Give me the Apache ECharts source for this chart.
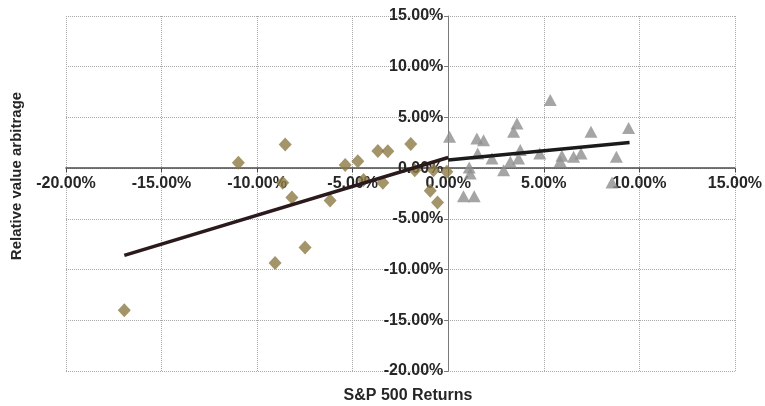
<!DOCTYPE html>
<html>
<head>
<meta charset="utf-8">
<script src="https://cdn.jsdelivr.net/npm/echarts@6/dist/echarts.min.js"></script>
<style>
  html, body { margin: 0; padding: 0; background: #fff; }
  #chart { width: 765px; height: 406px; }
</style>
</head>
<body>
<div id="chart"></div>
<script>
// Monthly returns (%): S&P 500 vs. relative value arbitrage
const downMonthsX = [-16.95, -10.98, -9.06, -8.66, -8.53, -8.18, -7.49, -6.18, -5.39, -4.73,
                     -4.43, -3.68, -3.42, -3.16, -1.96, -1.75, -0.94, -0.77, -0.56, -0.07];
const downMonthsY = [-14.0, 0.52, -9.34, -1.45, 2.33, -2.89, -7.82, -3.2, 0.30, 0.69,
                     -1.18, 1.68, -1.45, 1.66, 2.37, -0.2, -2.24, -0.22, -3.38, -0.36];

const upMonthsX = [0.07, 0.80, 1.10, 1.15, 1.36, 1.50, 1.54, 1.85, 2.29, 2.90, 3.25, 3.42, 3.60,
                   3.68, 3.77, 4.79, 5.34, 5.86, 5.95, 6.56, 6.95, 7.47, 8.57, 8.80, 9.44];
const upMonthsY = [3.09, -2.76, 0.07, -0.53, -2.76, 2.93, 1.45, 2.76, 0.95, -0.20, 0.62, 3.58, 4.40,
                   0.95, 1.78, 1.45, 6.71, 0.69, 1.21, 1.12, 1.45, 3.58, -1.41, 1.12, 3.97];

// Fitted regression segments for down and up markets
const downFitX = [-16.95, 0];
const downFitY = [-8.6, 1.05];
const upFitX = [0, 9.49];
const upFitY = [0.8, 2.53];

// Shared axis range (percent)
const axisMin = -20, axisMax = 15, axisStep = 5;

const zip = (xs, ys) => xs.map((x, i) => [x, ys[i]]);
const pct = v => v.toFixed(2) + '%';

const W = 765, H = 406;
const grid = { left: 66, right: 30, top: 16, bottom: 35 };
const plotW = W - grid.left - grid.right;
const plotH = H - grid.top - grid.bottom;
// Distance from the grid edge to the zero line, so each axis sits on the other's zero
const zeroFromLeft = plotW * (0 - axisMin) / (axisMax - axisMin);
const zeroFromBottom = plotH * (0 - axisMin) / (axisMax - axisMin);

const labelFont = {
  fontFamily: 'Liberation Sans, Arial, sans-serif',
  fontWeight: 'bold',
  fontSize: 16,
  color: '#262626'
};

const chart = echarts.init(document.getElementById('chart'), null, { renderer: 'canvas' });

chart.setOption({
  animation: false,
  backgroundColor: '#ffffff',
  grid: Object.assign({ containLabel: false }, grid),
  xAxis: {
    type: 'value',
    position: 'bottom',
    offset: -zeroFromBottom,
    z: 0,
    min: axisMin, max: axisMax, interval: axisStep,
    axisLine: { show: true, onZero: false, lineStyle: { color: '#4a4a4a', width: 1.5 } },
    axisTick: { show: true, length: 4, lineStyle: { color: '#4a4a4a' } },
    axisLabel: Object.assign({ formatter: pct, margin: 7 }, labelFont),
    splitLine: { show: true, lineStyle: { color: '#a8a8a8', type: 'dotted', width: 1 } }
  },
  yAxis: {
    type: 'value',
    position: 'left',
    offset: -zeroFromLeft,
    z: 0,
    min: axisMin, max: axisMax, interval: axisStep,
    axisLine: { show: true, onZero: false, lineStyle: { color: '#7a7a7a', width: 1 } },
    axisTick: { show: true, length: 4, lineStyle: { color: '#7a7a7a' } },
    axisLabel: Object.assign({ formatter: pct, margin: 5 }, labelFont),
    splitLine: { show: true, lineStyle: { color: '#a8a8a8', type: 'dotted', width: 1 } }
  },
  graphic: [
    {
      type: 'text',
      x: 408,
      y: 396,
      style: {
        text: 'S&P 500 Returns',
        font: 'bold 16px "Liberation Sans", Arial, sans-serif',
        fill: '#262626',
        align: 'center',
        verticalAlign: 'middle'
      }
    },
    {
      type: 'text',
      x: 17,
      y: 176,
      rotation: Math.PI / 2,
      style: {
        text: 'Relative value arbitrage',
        font: 'bold 15px "Liberation Sans", Arial, sans-serif',
        fill: '#262626',
        align: 'center',
        verticalAlign: 'middle'
      }
    }
  ],
  series: [
    {
      name: 'Down months',
      type: 'scatter',
      symbol: 'diamond',
      symbolSize: [13, 14],
      itemStyle: { color: '#8c7943' },
      data: zip(downMonthsX, downMonthsY),
      z: 2
    },
    {
      name: 'Up months',
      type: 'scatter',
      symbol: 'triangle',
      symbolSize: [13, 12],
      itemStyle: { color: '#8e8e90' },
      data: zip(upMonthsX, upMonthsY),
      z: 2
    },
    {
      name: 'Down fit',
      type: 'line',
      showSymbol: false,
      symbol: 'none',
      lineStyle: { color: '#2a1a1b', width: 3.5 },
      data: zip(downFitX, downFitY),
      z: 3
    },
    {
      name: 'Up fit',
      type: 'line',
      showSymbol: false,
      symbol: 'none',
      lineStyle: { color: '#1c1a1a', width: 3.5 },
      data: zip(upFitX, upFitY),
      z: 3
    }
  ]
});
</script>
</body>
</html>
